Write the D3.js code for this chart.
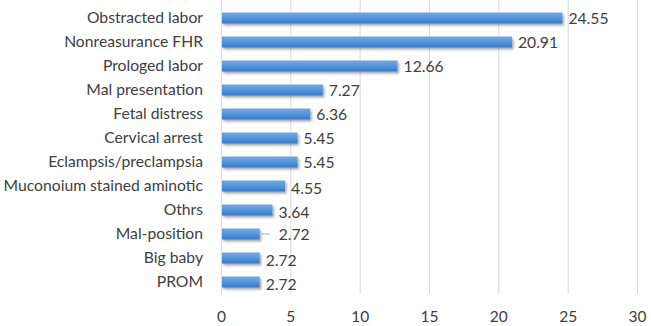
<!DOCTYPE html>
<html>
<head>
<meta charset="utf-8">
<script src="https://cdn.jsdelivr.net/npm/d3@7"></script>
<style>
  body { margin: 0; background: #fff; }
  text { font-family: Lato, "Open Sans", sans-serif; fill: #404040; }
</style>
</head>
<body>
<div id="chart"></div>
<script>
const categories = ['Obstracted labor', 'Nonreasurance FHR', 'Prologed labor', 'Mal presentation',
  'Fetal distress', 'Cervical arrest', 'Eclampsis/preclampsia', 'Muconoium stained aminotic',
  'Othrs', 'Mal-position', 'Big baby', 'PROM'];
const values = [24.55, 20.91, 12.66, 7.27, 6.36, 5.45, 5.45, 4.55, 3.64, 2.72, 2.72, 2.72];
const tickValues = [0, 5, 10, 15, 20, 25, 30];

const W = 651, H = 326;
const margin = { top: 6, right: 14, bottom: 32, left: 221 };
const width = W - margin.left - margin.right;
const height = H - margin.top - margin.bottom;

const svg = d3.select('#chart').append('svg')
  .attr('width', W)
  .attr('height', H);

const defs = svg.append('defs');
const grad = defs.append('linearGradient')
  .attr('id', 'barGrad')
  .attr('x1', '0%').attr('y1', '0%')
  .attr('x2', '0%').attr('y2', '100%');
grad.append('stop').attr('offset', 0).attr('stop-color', '#6ea9e6');
grad.append('stop').attr('offset', 0.5).attr('stop-color', '#5596dc');
grad.append('stop').attr('offset', 1).attr('stop-color', '#3a78c2');

const shadow = defs.append('filter').attr('id', 'shadow')
  .attr('x', '-10%').attr('y', '-30%').attr('width', '130%').attr('height', '190%');
shadow.append('feDropShadow')
  .attr('dx', 1.5).attr('dy', 2).attr('stdDeviation', 1.2)
  .attr('flood-color', '#000').attr('flood-opacity', 0.35);

const g = svg.append('g').attr('transform', 'translate(' + margin.left + ',' + margin.top + ')');

const x = d3.scaleLinear().domain([0, 30]).range([0, width]);
const y = d3.scaleBand().domain(categories).range([0, height])
  .paddingInner(0.54).paddingOuter(0.27);

// gridlines
g.append('g')
  .selectAll('line')
  .data(tickValues)
  .enter().append('line')
  .attr('x1', d => x(d) + 0.5)
  .attr('x2', d => x(d) + 0.5)
  .attr('y1', -margin.top)
  .attr('y2', height)
  .attr('stroke', '#d9d9d9')
  .attr('stroke-width', 1);

// x axis labels
g.append('g')
  .attr('transform', 'translate(0,' + height + ')')
  .call(d3.axisBottom(x).tickValues(tickValues).tickSize(0).tickPadding(17))
  .call(a => a.select('.domain').remove())
  .selectAll('text')
  .style('font-size', '15.5px')
  .attr('fill', '#595959');

// y axis labels
g.append('g')
  .call(d3.axisLeft(y).tickSize(0).tickPadding(18))
  .call(a => a.select('.domain').remove())
  .selectAll('text')
  .style('font-size', '15.7px')
  .attr('fill', '#404040');

// bars
g.append('g')
  .selectAll('rect')
  .data(values)
  .enter().append('rect')
  .attr('x', x(0) + 1)
  .attr('y', (d, i) => y(categories[i]))
  .attr('width', d => x(d) - x(0))
  .attr('height', y.bandwidth())
  .attr('fill', 'url(#barGrad)')
  .attr('filter', 'url(#shadow)');

// value labels (Mal-position label was dragged out with a leader line)
const labelShift = { 'Mal-position': 13 };
const labels = g.append('g');
values.forEach((v, i) => {
  const c = categories[i];
  const shift = labelShift[c] || 0;
  const cy = y(c) + y.bandwidth() / 2;
  if (shift) {
    labels.append('line')
      .attr('x1', x(v) + 3).attr('x2', x(v) + shift - 2)
      .attr('y1', cy).attr('y2', cy)
      .attr('stroke', '#a6a6a6').attr('stroke-width', 1);
  }
  labels.append('text')
    .attr('x', x(v) + 7 + shift)
    .attr('y', cy + (i > 6 && !shift ? 3 : 1))
    .attr('dy', '0.35em')
    .style('font-size', '15.7px')
    .text(v.toFixed(2));
});
</script>
</body>
</html>
